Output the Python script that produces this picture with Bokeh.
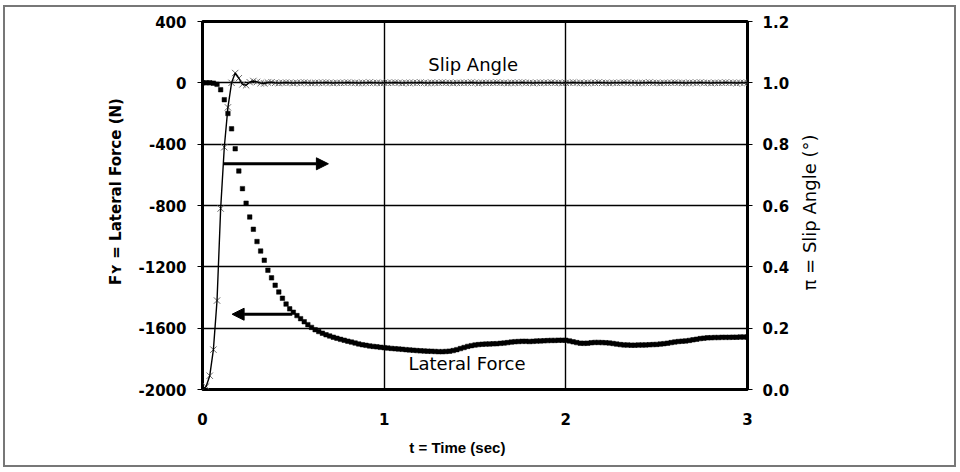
import math
from bokeh.plotting import figure
from bokeh.models import (Range1d, LinearAxis, FixedTicker, PrintfTickFormatter,
                          Arrow, NormalHead, Label, ColumnDataSource)
from bokeh.embed import file_html
from bokeh.resources import INLINE

# ---------------- data ----------------
time_s = [round(i * 0.02, 2) for i in range(151)]

lateral_force_n = [
    0, 0, 0, -2, -10, -45, -110, -200, -300, -430,
    -575, -690, -785, -875, -955, -1035, -1097, -1157, -1222, -1272,
    -1320, -1364, -1405, -1443, -1474, -1496, -1518, -1538, -1558, -1577,
    -1595, -1610, -1622, -1633, -1643, -1651, -1659, -1666, -1673, -1679,
    -1685, -1691, -1697, -1703, -1708, -1712, -1716, -1719, -1722, -1725,
    -1727, -1730, -1732, -1734, -1736, -1738, -1740, -1742, -1744, -1746,
    -1748, -1749, -1750, -1751, -1752, -1753, -1753, -1752, -1750, -1746,
    -1740, -1733, -1726, -1719, -1714, -1710, -1707, -1705, -1704, -1703,
    -1702, -1701, -1699, -1697, -1694, -1691, -1688, -1687, -1686, -1686,
    -1687, -1686, -1684, -1683, -1682, -1681, -1680, -1680, -1679, -1679,
    -1679, -1683, -1689, -1694, -1698, -1699, -1698, -1695, -1693, -1693,
    -1694, -1695, -1697, -1700, -1704, -1707, -1709, -1710, -1711, -1711,
    -1710, -1710, -1709, -1708, -1707, -1706, -1704, -1701, -1698, -1694,
    -1690, -1687, -1685, -1683, -1680, -1676, -1672, -1668, -1665, -1663,
    -1662, -1661, -1661, -1660, -1660, -1660, -1659, -1659, -1658, -1658,
    -1658,
]

slip_angle_deg = [
    0.0, 0.01, 0.045, 0.13, 0.29, 0.59, 0.79, 0.92, 1.0, 1.032,
    1.015, 0.995, 0.992, 1.002, 1.006, 1.003, 0.999, 0.998, 1.001, 1.002,
    1.0, 0.999, 1.0, 1.001, 1.0, 0.999, 1.0, 1.0, 1.001, 1.0,
    0.999, 1.0, 1.0, 1.0, 1.001, 1.0, 0.999, 1.0, 1.0, 1.0,
    1.001, 1.0, 1.0, 0.999, 1.0, 1.0, 1.001, 1.0, 1.0, 0.999,
    1.0, 1.0, 1.0, 1.001, 1.0, 0.999, 1.0, 1.0, 1.0, 1.0,
    1.001, 1.0, 0.999, 1.0, 1.0, 1.0, 1.001, 1.0, 1.0, 0.999,
    1.0, 1.0, 1.0, 1.0, 1.001, 1.0, 0.999, 1.0, 1.0, 1.0,
    1.0, 1.001, 1.0, 1.0, 0.999, 1.0, 1.0, 1.0, 1.001, 1.0,
    1.0, 0.999, 1.0, 1.0, 1.0, 1.0, 1.001, 1.0, 1.0, 0.999,
    1.0, 1.0, 1.001, 1.0, 1.0, 0.999, 1.0, 1.0, 1.0, 1.001,
    1.0, 1.0, 0.999, 1.0, 1.0, 1.0, 1.001, 1.0, 1.0, 1.0,
    0.999, 1.0, 1.0, 1.001, 1.0, 1.0, 0.999, 1.0, 1.0, 1.0,
    1.001, 1.0, 1.0, 0.999, 1.0, 1.0, 1.0, 1.001, 1.0, 1.0,
    0.999, 1.0, 1.0, 1.0, 1.001, 1.0, 1.0, 0.999, 1.0, 1.0,
    1.0,
]

time_ticks = [0, 1, 2, 3]
force_ticks = [-2000, -1600, -1200, -800, -400, 0, 400]
slip_ticks = [0.0, 0.2, 0.4, 0.6, 0.8, 1.0, 1.2]

x_title = "t = Time (sec)"
left_title = "F\u028f = Lateral Force (N)"
right_title = "\u03c0 = Slip Angle (\u00b0)"

# title anchors along their axes (data units)
x_title_at = 1.403
left_title_at = -709
right_title_at = 0.323

# annotation anchors (data units)
slip_arrow = dict(t0=0.114, t1=0.693, f=-528)
force_arrow = dict(t0=0.494, t1=0.163, f=-1509)
slip_label = dict(t=1.49, f=117, text="Slip Angle")
force_label = dict(t=1.456, f=-1830, text="Lateral Force")

# ---------------- figure ----------------
p = figure(width=953, height=462, output_backend="svg", toolbar_location=None,
           x_range=Range1d(time_ticks[0], time_ticks[-1]),
           y_range=Range1d(force_ticks[0], force_ticks[-1]),
           min_border_left=197, min_border_right=211,
           min_border_top=14, min_border_bottom=80)
p.extra_y_ranges = {"slip": Range1d(slip_ticks[0], slip_ticks[-1])}
p.background_fill_color = "white"
p.border_fill_color = "white"
p.outline_line_color = "black"
p.outline_line_width = 3
p.styles = {"border": "2px solid #777777", "margin-left": "3px", "margin-top": "5px"}

TICK_FONT = "DejaVu Sans"


def plain(ax):
    ax.major_tick_in = 0
    ax.minor_tick_out = 0
    ax.minor_tick_in = 0
    ax.axis_line_color = None
    ax.major_label_text_color = "black"


# bottom axis
xa = p.xaxis[0]
xa.ticker = FixedTicker(ticks=time_ticks)
xa.major_label_standoff = 23
xa.major_tick_out = 0
plain(xa)

# left axis
ya = p.yaxis[0]
ya.ticker = FixedTicker(ticks=force_ticks)
ya.formatter = PrintfTickFormatter(format="%d")
ya.major_label_standoff = 11
ya.major_tick_out = 5
ya.major_tick_line_color = "black"
plain(ya)

# right axis
ra = LinearAxis(y_range_name="slip", ticker=FixedTicker(ticks=slip_ticks),
                formatter=PrintfTickFormatter(format="%.1f"))
ra.major_label_standoff = 10
ra.major_tick_out = 5
plain(ra)
p.add_layout(ra, "right")

for ax in (xa, ya, ra):
    ax.major_label_text_font = TICK_FONT
    ax.major_label_text_font_style = "bold"
    ax.major_label_text_font_size = "15px"

# title axes (one labelled position each, placed outside the value axes)
xt = LinearAxis(ticker=FixedTicker(ticks=[x_title_at]),
                major_label_overrides={x_title_at: x_title})
xt.major_tick_out = 0
xt.major_label_standoff = 11
xt.major_label_text_font = "Liberation Sans"
xt.major_label_text_font_style = "bold"
xt.major_label_text_font_size = "15px"
plain(xt)
p.add_layout(xt, "below")

yt = LinearAxis(ticker=FixedTicker(ticks=[left_title_at]),
                major_label_overrides={left_title_at: left_title})
yt.major_tick_out = 0
yt.major_label_standoff = 10
yt.major_label_orientation = "vertical"
yt.major_label_text_font = TICK_FONT
yt.major_label_text_font_style = "bold"
yt.major_label_text_font_size = "15px"
plain(yt)
p.add_layout(yt, "left")

rt = LinearAxis(y_range_name="slip", ticker=FixedTicker(ticks=[right_title_at]),
                major_label_overrides={right_title_at: right_title})
rt.major_tick_out = 0
rt.major_label_standoff = 17
rt.major_label_orientation = math.pi / 2
rt.major_label_text_font = TICK_FONT
rt.major_label_text_font_style = "normal"
rt.major_label_text_font_size = "18px"
plain(rt)
p.add_layout(rt, "right")

# grid
p.xgrid.ticker = FixedTicker(ticks=time_ticks)
p.ygrid.ticker = FixedTicker(ticks=force_ticks)
p.grid.grid_line_color = "black"
p.grid.grid_line_width = 1.4
p.grid.grid_line_alpha = 1.0

# ---------------- series ----------------
force_src = ColumnDataSource(dict(t=time_s, f=lateral_force_n))
slip_src = ColumnDataSource(dict(t=time_s, s=slip_angle_deg))

p.scatter("t", "f", source=force_src, marker="square", size=4.5,
          fill_color="black", line_color="black", line_width=0.5)

p.scatter("t", "s", source=slip_src, y_range_name="slip", marker="x", size=9,
          line_color="#6a6a6a", line_width=1)
p.line("t", "s", source=slip_src, y_range_name="slip",
       line_color="black", line_width=1.4)

# arrows
p.add_layout(Arrow(end=NormalHead(size=12, fill_color="black", line_color="black"),
                   x_start=slip_arrow["t0"], y_start=slip_arrow["f"],
                   x_end=slip_arrow["t1"], y_end=slip_arrow["f"],
                   line_width=3, line_color="black"))
p.add_layout(Arrow(end=NormalHead(size=12, fill_color="black", line_color="black"),
                   x_start=force_arrow["t0"], y_start=force_arrow["f"],
                   x_end=force_arrow["t1"], y_end=force_arrow["f"],
                   line_width=3, line_color="black"))

# in-plot labels
for lab in (slip_label, force_label):
    p.add_layout(Label(x=lab["t"], y=lab["f"], text=lab["text"],
                       text_align="center", text_baseline="middle",
                       text_font=TICK_FONT, text_font_size="18px",
                       text_color="black"))

open("out.html", "w").write(file_html(p, INLINE))
